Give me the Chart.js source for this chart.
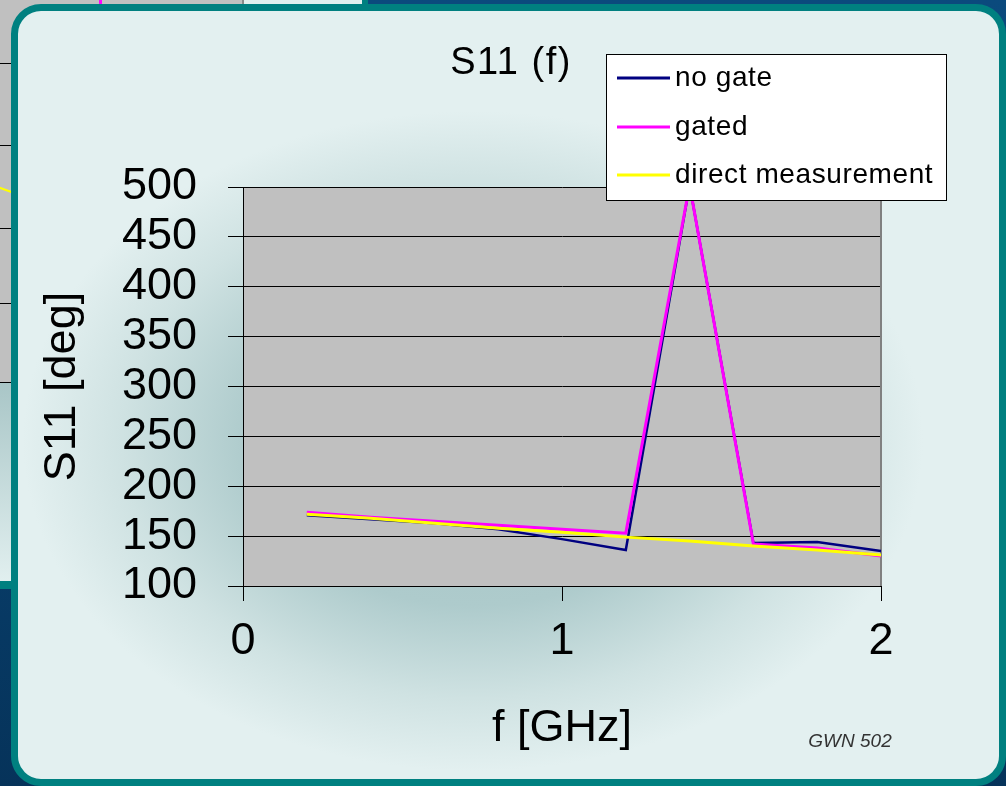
<!DOCTYPE html>
<html>
<head>
<meta charset="utf-8">
<title>S11 (f)</title>
<script src="https://cdn.jsdelivr.net/npm/chart.js@4.4.1/dist/chart.umd.min.js"></script>
<style>
    html, body {
        margin: 0;
        padding: 0;
        width: 1006px;
        height: 786px;
        overflow: hidden;
        background: linear-gradient(180deg, #0b4a7d 0%, #083e6b 60%, #06335a 100%);
        position: relative;
    }
    .frag { position: absolute; }
    #fragGrey { left: 0; top: 0; width: 242px; height: 383px; background: #c0c0c0; border-right: 2px solid #8a8a8a; }
    #fragLight { left: 0; top: 383px; width: 360px; height: 198px; background: linear-gradient(180deg, #a9c6c7 0%, #e1efef 100%); border-bottom: 8px solid #008080; }
    #fragLight2 { left: 244px; top: 0; width: 118px; height: 383px; background: #e2f0ef; border-right: 6px solid #008080; }
    #fragMag { left: 99px; top: 0; width: 3px; height: 12px; background: #ff00ff; }
    .hline { position: absolute; left: 0; width: 242px; height: 1px; background: #000; }
    #fragYel { left: -2px; top: 189px; width: 16px; height: 2px; background: #ffff00; transform: rotate(20deg); }
    #panel {
        position: absolute;
        left: 11px;
        top: 4px;
        width: 981px;
        height: 768px;
        border: 7px solid #008080;
        border-radius: 30px;
        background: radial-gradient(ellipse 450px 330px at 455px 430px, #a4c4c5 0%, #aecbcc 50%, #cfe2e2 78%, #e3f0f0 100%);
    }
    #s11Chart { position: absolute; left: 0; top: 0; }
</style>
</head>
<body>

<div class="frag" id="fragGrey"></div>
<div class="hline" style="top:63px"></div>
<div class="hline" style="top:145px"></div>
<div class="hline" style="top:228px"></div>
<div class="hline" style="top:303px"></div>
<div class="hline" style="top:382px"></div>
<div class="frag" id="fragYel"></div>
<div class="frag" id="fragMag"></div>
<div class="frag" id="fragLight2"></div>
<div class="frag" id="fragLight"></div>

<div id="panel"></div>
<canvas id="s11Chart" width="1006" height="786"></canvas>

<script>
// ---------- Data ----------

const freqGHz = [0.2, 0.4, 0.6, 0.8, 1.0, 1.2, 1.4, 1.6, 1.8, 2.0];

const noGate = [171, 167, 163, 157, 147, 136, 502, 143, 144, 135];
const gated = [174, 169, 165, 161, 157, 153, 502, 142, 138, 130];
const directMeas = [172, 168, 163, 158, 154, 149, 145, 140, 136, 131];

const seriesNames = ["no gate", "gated", "direct measurement"];
const seriesColors = ["#000080", "#ff00ff", "#ffff00"];

const xMin = 0, xMax = 2, xStep = 1;
const yMin = 100, yMax = 500, yStep = 50;

const FONT = '"Liberation Sans", Arial, sans-serif';

Chart.defaults.font.family = FONT;
Chart.defaults.color = "#000";

function toPoints(values) {
    return freqGHz.map((f, i) => ({ x: f, y: values[i] }));
}

// ---------- Plugins ----------

const plotBox = {
    id: "plotBox",
    beforeDraw(chart) {
        const { ctx, chartArea: a } = chart;
        ctx.save();
        ctx.fillStyle = "#c0c0c0";
        ctx.fillRect(a.left, a.top, a.right - a.left, a.bottom - a.top);
        ctx.restore();
    },
    beforeDatasetsDraw(chart) {
        const { ctx, chartArea: a } = chart;
        ctx.save();
        ctx.strokeStyle = "#808080";
        ctx.lineWidth = 2;
        ctx.beginPath();
        ctx.moveTo(a.right, a.top);
        ctx.lineTo(a.right, a.bottom);
        ctx.stroke();
        ctx.restore();
    }
};

const extras = {
    id: "extras",
    afterDraw(chart) {
        const ctx = chart.ctx;
        ctx.save();

        // title
        ctx.fillStyle = "#000";
        ctx.font = "38px " + FONT;
        ctx.letterSpacing = "1.5px";
        ctx.textAlign = "center";
        ctx.textBaseline = "middle";
        ctx.fillText("S11 (f)", 511, 64);

        // legend box
        const bx = 606, by = 54, bw = 340, bh = 146;
        ctx.fillStyle = "#fff";
        ctx.fillRect(bx, by, bw, bh);
        ctx.strokeStyle = "#000";
        ctx.lineWidth = 1;
        ctx.strokeRect(bx + 0.5, by + 0.5, bw, bh);

        const rows = [78, 127, 175];
        ctx.font = "28px " + FONT;
        ctx.letterSpacing = "0.6px";
        ctx.textAlign = "left";
        chart.data.datasets.forEach((ds, i) => {
            ctx.strokeStyle = ds.borderColor;
            ctx.lineWidth = 3;
            ctx.beginPath();
            ctx.moveTo(617, rows[i]);
            ctx.lineTo(670, rows[i]);
            ctx.stroke();
            ctx.fillStyle = "#000";
            ctx.fillText(ds.label, 675, rows[i]);
        });

        // slide tag
        ctx.fillStyle = "#333";
        ctx.font = "italic 19px " + FONT;
        ctx.letterSpacing = "0px";
        ctx.textAlign = "center";
        ctx.fillText("GWN 502", 850, 742);

        ctx.restore();
    }
};

// ---------- Chart ----------

const s11Chart = new Chart(document.getElementById("s11Chart"), {

    type: "line",

    data: {
        datasets: [
            {
                label: seriesNames[0],
                data: toPoints(noGate),
                borderColor: seriesColors[0],
                backgroundColor: seriesColors[0],
                borderWidth: 2.5,
                order: 3
            },
            {
                label: seriesNames[1],
                data: toPoints(gated),
                borderColor: seriesColors[1],
                backgroundColor: seriesColors[1],
                borderWidth: 3,
                order: 2
            },
            {
                label: seriesNames[2],
                data: toPoints(directMeas),
                borderColor: seriesColors[2],
                backgroundColor: seriesColors[2],
                borderWidth: 3,
                order: 1
            }
        ]
    },

    options: {

        responsive: false,

        animation: false,

        layout: {
            padding: { left: 20, right: 125, top: 187, bottom: 30 }
        },

        elements: {
            point: { radius: 0, hoverRadius: 0 },
            line: { tension: 0, fill: false }
        },

        plugins: {
            legend: { display: false },
            title: { display: false },
            tooltip: { enabled: false }
        },

        scales: {

            x: {
                type: "linear",
                min: xMin,
                max: xMax,
                ticks: {
                    stepSize: xStep,
                    color: "#000",
                    font: { size: 45 },
                    padding: 14,
                    maxRotation: 0,
                    autoSkip: false
                },
                grid: {
                    drawOnChartArea: false,
                    tickLength: 15,
                    color: "#000",
                    tickColor: "#000"
                },
                border: { color: "#000", width: 1 },
                title: {
                    display: true,
                    text: "f [GHz]",
                    color: "#000",
                    font: { size: 45 },
                    padding: 0
                },
                afterFit(scale) {
                    scale.height = 170;
                }
            },

            y: {
                min: yMin,
                max: yMax,
                ticks: {
                    stepSize: yStep,
                    color: "#000",
                    font: { size: 45 },
                    padding: 31,
                    autoSkip: false
                },
                grid: {
                    color: "#000",
                    tickColor: "#000",
                    tickLength: 15
                },
                border: { color: "#000", width: 1 },
                title: {
                    display: true,
                    text: "S11 [deg]",
                    color: "#000",
                    font: { size: 45 },
                    padding: { top: 16, bottom: 0 }
                },
                afterFit(scale) {
                    scale.width = 223;
                }
            }

        }

    },

    plugins: [plotBox, extras]

});
</script>
</body>
</html>
